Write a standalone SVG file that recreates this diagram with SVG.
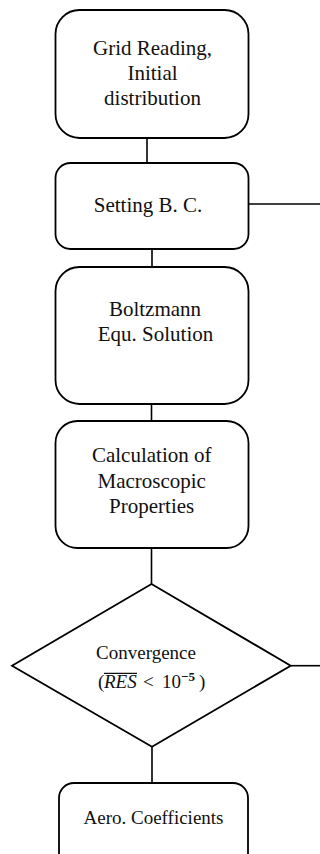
<svg xmlns="http://www.w3.org/2000/svg" width="320" height="854" viewBox="0 0 320 854">
<style>
.box{fill:#fff;stroke:#000;stroke-width:1.8}
.conn{stroke:#000;stroke-width:1.6;fill:none}
.t{font-family:"Liberation Serif","Times New Roman",serif;font-size:21px;fill:#111;text-anchor:middle}
.s{font-size:19px}
</style>
<rect width="320" height="854" fill="#fff"/>
<g id="connectors">
<line class="conn" x1="147" y1="138" x2="147" y2="163"/>
<line class="conn" x1="248.5" y1="204" x2="320" y2="204"/>
<line class="conn" x1="152" y1="249" x2="152" y2="267"/>
<line class="conn" x1="151.5" y1="404" x2="151.5" y2="421"/>
<line class="conn" x1="151.5" y1="548" x2="151.5" y2="584"/>
<line class="conn" x1="290.7" y1="665.7" x2="320" y2="665.7"/>
<line class="conn" x1="152" y1="746.7" x2="152" y2="783"/>
</g>
<g id="n1">
<rect class="box" x="55.5" y="10" width="193" height="128" rx="24"/>
<text class="t" x="152.5" y="55">Grid Reading,</text>
<text class="t" x="152.5" y="80">Initial</text>
<text class="t" x="152.5" y="105">distribution</text>
</g>
<g id="n2">
<rect class="box" x="55.5" y="163" width="193" height="86" rx="15"/>
<text class="t" x="148" y="212">Setting B. C.</text>
</g>
<g id="n3">
<rect class="box" x="55.5" y="267" width="193" height="137" rx="24"/>
<text class="t" x="155" y="316">Boltzmann</text>
<text class="t" x="155.5" y="341">Equ. Solution</text>
</g>
<g id="n4">
<rect class="box" x="55.5" y="421" width="193" height="127" rx="22"/>
<text class="t" x="151.7" y="462">Calculation of</text>
<text class="t" x="151.7" y="487.5">Macroscopic</text>
<text class="t" x="151.7" y="512.5">Properties</text>
</g>
<g id="n5">
<polygon class="box" points="151.5,584 290.7,665.7 152,746.7 12,665.7"/>
<text class="t s" x="146" y="659">Convergence</text>
<text class="t s" style="text-anchor:start" y="688"><tspan x="98">(</tspan><tspan x="104" font-style="italic">RES</tspan><tspan x="143">&lt;</tspan><tspan x="162">10</tspan><tspan x="181" font-size="13" font-weight="bold" dy="-7">−5</tspan><tspan x="199" dy="7">)</tspan></text>
<line x1="104" y1="673.3" x2="137" y2="673.3" stroke="#111" stroke-width="1.2"/>
</g>
<g id="n6">
<rect class="box" x="59" y="783" width="189" height="100" rx="15"/>
<text class="t s" x="153.5" y="824">Aero. Coefficients</text>
</g>
</svg>
